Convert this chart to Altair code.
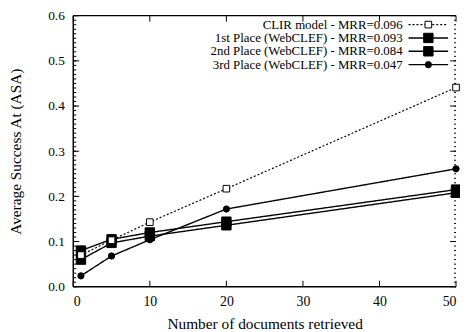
import altair as alt
import pandas as pd

docs = [1, 5, 10, 20, 50]
series_names = [
    "CLIR model - MRR=0.096",
    "1st Place (WebCLEF) - MRR=0.093",
    "2nd Place (WebCLEF) - MRR=0.084",
    "3rd Place (WebCLEF) - MRR=0.047",
]
clir = [0.070, 0.103, 0.143, 0.217, 0.441]
first = [0.080, 0.105, 0.120, 0.144, 0.215]
second = [0.060, 0.097, 0.112, 0.136, 0.208]
third = [0.024, 0.068, 0.104, 0.172, 0.261]

x_ticks = [0, 10, 20, 30, 40, 50]
y_ticks = [0.0, 0.1, 0.2, 0.3, 0.4, 0.5, 0.6]
y_minor = [round(i * 0.01, 2) for i in range(61)]

W, H = 387, 274
FONT = "Liberation Serif"

xs = alt.Scale(domain=[0, 50], nice=False, zero=False)
ys = alt.Scale(domain=[0, 0.6], nice=False, zero=False)

def frame(vals):
    return pd.DataFrame({"v": vals})

base_df = pd.DataFrame({"x": [0, 50], "y": [0, 0.6]})
axes = alt.Chart(base_df).mark_point(opacity=0).encode(
    x=alt.X("x:Q", scale=xs, title="Number of documents retrieved",
            axis=alt.Axis(values=x_ticks, format="d", ticks=False, domain=False, grid=False,
                          labelPadding=8, titlePadding=8,
                          labelFont=FONT, labelFontSize=14, labelColor="black",
                          titleFont=FONT, titleFontSize=15.5, titleColor="black",
                          titleFontWeight="normal")),
    y=alt.Y("y:Q", scale=ys, title="Average Success At (ASA)",
            axis=alt.Axis(values=y_ticks, format=".1f", ticks=False, domain=False, grid=False,
                          labelPadding=9, titlePadding=24,
                          labelFont=FONT, labelFontSize=13.5, labelColor="black",
                          titleFont=FONT, titleFontSize=15.5, titleColor="black",
                          titleFontWeight="normal")),
)

layers = [axes]

left = alt.Chart(frame([0])).mark_rule(color="black", strokeWidth=1.5).encode(
    x=alt.X("v:Q", scale=xs), y=alt.value(0), y2=alt.value(H))
bottom = alt.Chart(frame([0])).mark_rule(color="black", strokeWidth=1.5).encode(
    y=alt.Y("v:Q", scale=ys), x=alt.value(0), x2=alt.value(W))
top = alt.Chart(frame([0.6])).mark_rule(color="black", strokeWidth=1.2).encode(
    y=alt.Y("v:Q", scale=ys), x=alt.value(0), x2=alt.value(W))
layers += [left, bottom, top]

ytick_l = alt.Chart(frame(y_ticks)).mark_rule(color="black", strokeWidth=1).encode(
    y=alt.Y("v:Q", scale=ys), x=alt.value(0), x2=alt.value(6))
ymin_l = alt.Chart(frame(y_minor)).mark_rule(color="black", strokeWidth=1).encode(
    y=alt.Y("v:Q", scale=ys), x=alt.value(0), x2=alt.value(3))
ytick_r = alt.Chart(frame(y_ticks)).mark_rule(color="black", strokeWidth=1).encode(
    y=alt.Y("v:Q", scale=ys), x=alt.value(W - 6), x2=alt.value(W))
ymin_r = alt.Chart(frame(y_minor)).mark_rule(color="black", strokeWidth=1).encode(
    y=alt.Y("v:Q", scale=ys), x=alt.value(W - 2), x2=alt.value(W))
xtick_b = alt.Chart(frame(x_ticks)).mark_rule(color="black", strokeWidth=1).encode(
    x=alt.X("v:Q", scale=xs), y=alt.value(H - 6), y2=alt.value(H))
xtick_t = alt.Chart(frame(x_ticks)).mark_rule(color="black", strokeWidth=1).encode(
    x=alt.X("v:Q", scale=xs), y=alt.value(0), y2=alt.value(6))
layers += [ytick_l, ymin_l, ytick_r, ymin_r, xtick_b, xtick_t]

styles = [
    dict(dash=[2, 2], sw=1.2, shape="square", size=45, fill="white"),
    dict(dash=[1, 0], sw=1.4, shape="square", size=90, fill="black"),
    dict(dash=[1, 0], sw=1.4, shape="square", size=90, fill="black"),
    dict(dash=[1, 0], sw=1.4, shape="circle", size=40, fill="black"),
]
values = [clir, first, second, third]

order = [3, 2, 1, 0]
for i in order:
    df = pd.DataFrame({"x": docs, "y": values[i], "s": series_names[i]})
    st = styles[i]
    line = alt.Chart(df).mark_line(color="black", strokeWidth=st["sw"], strokeDash=st["dash"]).encode(
        x=alt.X("x:Q", scale=xs), y=alt.Y("y:Q", scale=ys))
    pts = alt.Chart(df).mark_point(shape=st["shape"], size=st["size"], filled=True,
                                    fill=st["fill"], stroke="black", strokeWidth=1, opacity=1).encode(
        x=alt.X("x:Q", scale=xs), y=alt.Y("y:Q", scale=ys))
    layers += [line, pts]

leg_df = pd.DataFrame({"v": [0]})
row_y = [9, 22.5, 36, 49.5]
for i, name in enumerate(series_names):
    st = styles[i]
    ry = row_y[i]
    txt = alt.Chart(pd.DataFrame({"t": [name]})).mark_text(
        align="right", baseline="middle", font=FONT, fontSize=13, color="black").encode(
        text="t:N", x=alt.value(333), y=alt.value(ry))
    rl = alt.Chart(leg_df).mark_rule(color="black", strokeWidth=st["sw"], strokeDash=st["dash"]).encode(
        x=alt.value(339), x2=alt.value(379), y=alt.value(ry))
    sym = alt.Chart(leg_df).mark_point(shape=st["shape"], size=st["size"], filled=True,
                                       fill=st["fill"], stroke="black", strokeWidth=1, opacity=1).encode(
        x=alt.value(359), y=alt.value(ry))
    layers += [txt, rl, sym]

chart = alt.layer(*layers).properties(
    width=W, height=H,
    background="white",
    autosize=alt.AutoSizeParams(type="none"),
    padding={"left": 66, "top": 6, "right": 4, "bottom": 44},
).configure_view(stroke=None)

chart.save("out.html", embed_options={"renderer": "svg", "actions": False})
